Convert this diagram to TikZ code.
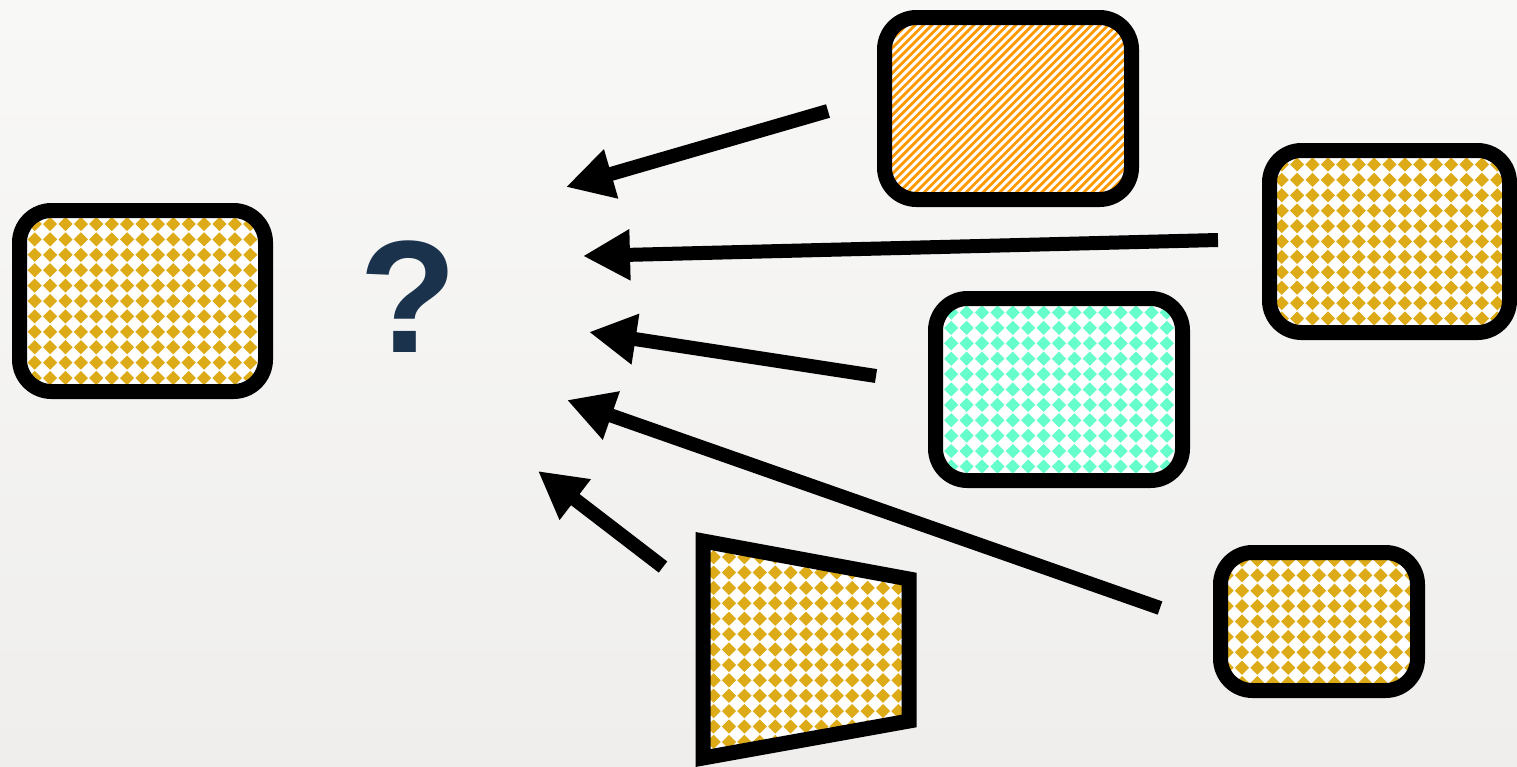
\documentclass[tikz,border=0pt]{standalone}
\usepackage{fontspec}
\setmainfont{Liberation Sans}
\usetikzlibrary{arrows.meta}
\definecolor{gold}{HTML}{DDAB17}
\definecolor{mint}{HTML}{66FFCC}
\definecolor{amber}{HTML}{FF9900}
\definecolor{navy}{HTML}{1A324C}
\definecolor{bgtop}{HTML}{F8F8F7}
\definecolor{bgbot}{HTML}{EFEEED}
\tikzset{
  frame/.style={draw, line width=15pt, rounded corners=32pt, fill=white},
  checks/.style={path picture={\foreach \i in {-10,...,10} \foreach \j in {-8,...,8}
    \fill[#1, sharp corners] ([shift={(\i*15.4pt,\j*15.4pt)}]path picture bounding box.center) +(-7.1pt,0pt) -- +(0pt,7.1pt) -- +(7.1pt,0pt) -- +(0pt,-7.1pt) -- cycle;}},
  stripes/.style={path picture={\foreach \k in {-40,...,40}
    \draw[#1, sharp corners, line width=2.8pt] ([xshift=\k*8.4pt]path picture bounding box.center) +(-150pt,-150pt) -- +(150pt,150pt);}},
  arr/.style={line width=14pt, -{Triangle[length=47pt,width=48pt]}}
}
\begin{document}
\begin{tikzpicture}[x=1pt,y=-1pt]
\shade[top color=bgtop, bottom color=bgbot] (0,0) rectangle (1517,766);
\useasboundingbox (0,0) rectangle (1517,766);
\draw[frame, checks=gold] (19.5,210.5) rectangle (265.5,391.5);
\node[anchor=base, inner sep=0pt, text=navy, font=\bfseries\fontsize{160}{165}\selectfont] (q) at (408,352) {?};
\draw[frame, stripes=amber] (884.5,17.5) rectangle (1131.5,199.5);
\draw[frame, checks=gold] (1269.5,150.5) rectangle (1509.5,332.5);
\draw[frame, checks=mint] (935.5,298.5) rectangle (1182.5,480.5);
\draw[frame, checks=gold] (1220.5,552.5) rectangle (1417.5,690.5);
\draw[line width=15pt, fill=white, checks=gold] (703,541) -- (909,579) -- (909,721) -- (703,758) -- cycle;
\coordinate (s1) at (828,111);  \coordinate (e1) at (566,187);
\coordinate (s2) at (1218,240); \coordinate (e2) at (583,256);
\coordinate (s3) at (876,376);  \coordinate (e3) at (589,332);
\coordinate (s4) at (1160,608); \coordinate (e4) at (567,400);
\coordinate (s5) at (663,567);  \coordinate (e5) at (538,471);
\foreach \n in {1,...,5}
  \draw[arr] (s\n) -- (e\n);
\end{tikzpicture}
\end{document}
